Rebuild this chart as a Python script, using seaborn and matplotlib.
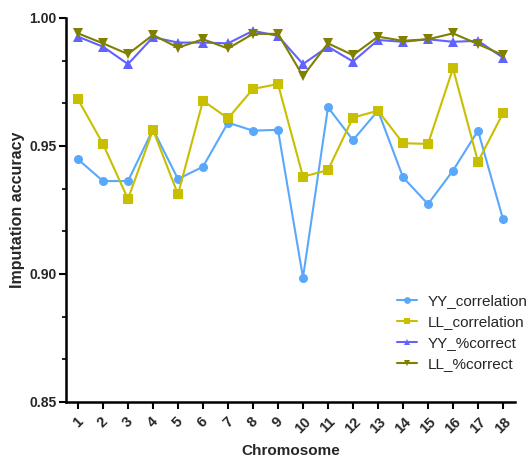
import numpy as np
import pandas as pd
import matplotlib
matplotlib.use("Agg")
import matplotlib.pyplot as plt
import matplotlib.ticker as mticker
import seaborn as sns

chromosomes = list(range(1, 19))
yy_correlation = [0.9448, 0.9363, 0.9363, 0.9565, 0.9371, 0.9419, 0.9591, 0.9560, 0.9563,
                  0.8986, 0.9651, 0.9523, 0.9638, 0.9378, 0.9273, 0.9404, 0.9560, 0.9214]
ll_correlation = [0.9682, 0.9508, 0.9293, 0.9563, 0.9311, 0.9677, 0.9608, 0.9723, 0.9742,
                  0.9380, 0.9406, 0.9611, 0.9638, 0.9511, 0.9508, 0.9803, 0.9439, 0.9628]
yy_correct = [0.9927, 0.9888, 0.9820, 0.9925, 0.9904, 0.9904, 0.9901, 0.9950, 0.9930,
              0.9820, 0.9888, 0.9830, 0.9914, 0.9907, 0.9917, 0.9907, 0.9911, 0.9845]
ll_correct = [0.9940, 0.9901, 0.9859, 0.9934, 0.9884, 0.9917, 0.9881, 0.9938, 0.9938,
              0.9773, 0.9901, 0.9855, 0.9927, 0.9911, 0.9917, 0.9940, 0.9898, 0.9855]

series = [
    ("YY_correlation", yy_correlation, "#5aa8fb", "o"),
    ("LL_correlation", ll_correlation, "#c8bf00", "s"),
    ("YY_%correct",    yy_correct,     "#6262ff", "^"),
    ("LL_%correct",    ll_correct,     "#7f7f00", "v"),
]

sns.set_style("ticks")
plt.rcParams["font.family"] = ["Liberation Sans", "DejaVu Sans"]

fig = plt.figure(figsize=(5.30, 4.58), dpi=100)
ax = fig.add_axes([0.1245, 0.1223, 0.8472, 0.8384])

for name, vals, col, mk in series:
    df = pd.DataFrame({"Chromosome": chromosomes, "acc": vals})
    sns.lineplot(data=df, x="Chromosome", y="acc", ax=ax, color=col, marker=mk,
                 markersize=6.5, markeredgewidth=0, linewidth=1.5, label=name)

ax.set_xlim(0.52, 18.48)
ax.set_ylim(0.85, 1.00)
ax.set_xticks(chromosomes)
ax.set_xticklabels([str(c) for c in chromosomes], rotation=45, ha="center",
                   fontweight="bold", fontsize=10.5)
ax.yaxis.set_major_locator(mticker.FixedLocator([0.85, 0.90, 0.95, 1.00]))
ax.yaxis.set_major_formatter(mticker.FormatStrFormatter("%.2f"))
ax.yaxis.set_minor_locator(mticker.FixedLocator(np.arange(0.85, 1.0, 0.05 / 3)))
for lab in ax.get_yticklabels():
    lab.set_fontweight("bold")
    lab.set_fontsize(10)

ax.tick_params(axis="both", which="major", length=5, width=1.5, color="black", pad=2)
ax.tick_params(axis="x", which="major", pad=4)
ax.tick_params(axis="y", which="minor", length=3, width=1.2, color="black")
for s in ["top", "right"]:
    ax.spines[s].set_visible(False)
for s in ["left", "bottom"]:
    ax.spines[s].set_linewidth(1.8)
    ax.spines[s].set_color("black")

ax.set_xlabel("Chromosome", fontweight="bold", fontsize=11, labelpad=6)
ax.set_ylabel("Imputation accuracy", fontweight="bold", fontsize=11.5, labelpad=3)
ax.legend(loc="lower right", bbox_to_anchor=(1.058, 0.045), frameon=False, fontsize=11,
          handlelength=1.3, handletextpad=0.7, labelspacing=0.45, markerscale=0.75)

fig.savefig("out.png", dpi=100)
